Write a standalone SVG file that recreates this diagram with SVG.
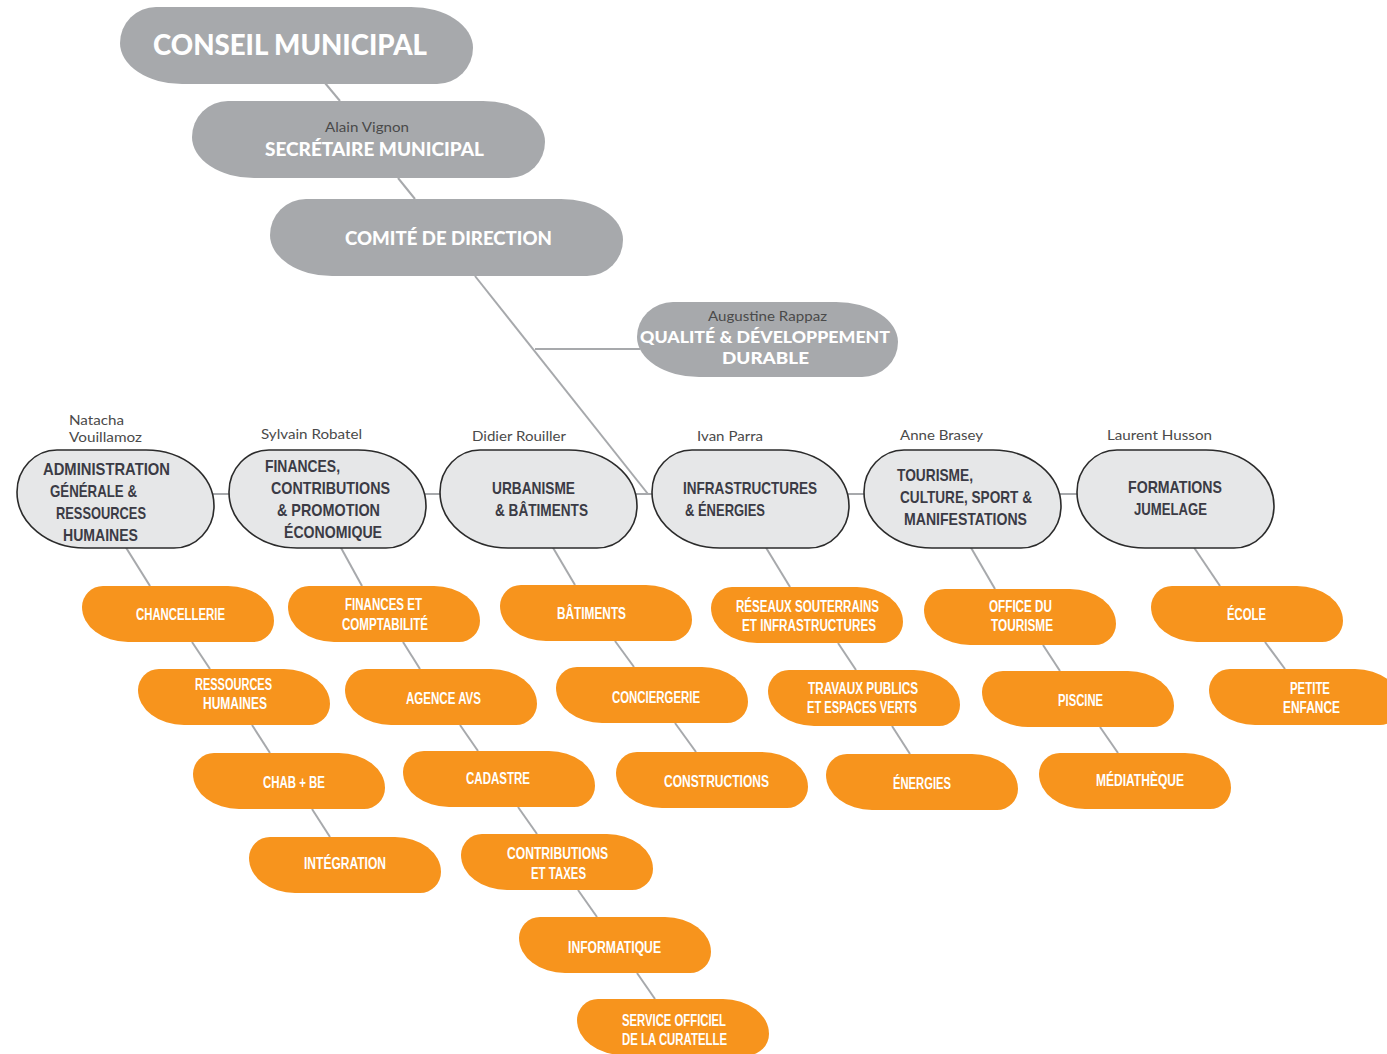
<svg xmlns="http://www.w3.org/2000/svg" xmlns:xlink="http://www.w3.org/1999/xlink" width="1387" height="1054" viewBox="0 0 1387 1054">
<style>
.c{stroke:#a7a9ac;stroke-width:2;fill:none}
.g{fill:#a7a9ac}
.o{fill:#f7941d}
.d{fill:#e6e7e8;stroke:#2b2b2b;stroke-width:1.6}
.tw{font-family:Lato,"Liberation Sans",sans-serif;font-weight:900;fill:#fff}
.nm{font-family:Lato,"Liberation Sans",sans-serif;font-size:14px;fill:#4a4a4a}
.dl{font-family:"Liberation Sans",Arial,sans-serif;font-weight:bold;font-size:17px;fill:#3b3b45}
.ol{font-family:"Liberation Sans",Arial,sans-serif;font-weight:bold;font-size:16px;fill:#fff}
</style>
<defs>
<path id="po" d="M21,0 H146 A46 35 0 0 1 192,35 A21 21 0 0 1 171,56 H46 A46 35 0 0 1 0,21 A21 21 0 0 1 21,0 Z"/>
<path id="pd" d="M40,0 H129 A68 56 0 0 1 197,56 A40 42 0 0 1 157,98 H68 A68 56 0 0 1 0,42 A40 42 0 0 1 40,0 Z"/>
<path id="pg" d="M36,0 H291 A62 41 0 0 1 353,41 A36 36 0 0 1 317,77 H62 A62 41 0 0 1 0,36 A36 36 0 0 1 36,0 Z"/>
<path id="pq" d="M36,0 H199 A62 40 0 0 1 261,40 A36 35 0 0 1 225,75 H62 A62 40 0 0 1 0,35 A36 35 0 0 1 36,0 Z"/>
</defs>
<g id="connectors">
<line class="c" x1="325" y1="83" x2="340" y2="101"/>
<line class="c" x1="398" y1="178" x2="415" y2="199"/>
<line class="c" x1="475" y1="276" x2="648" y2="494"/>
<line class="c" x1="535" y1="349" x2="640" y2="349"/>
<line class="c" x1="200" y1="494" x2="1090" y2="494"/>
<line class="c" x1="125" y1="546" x2="150" y2="586"/>
<line class="c" x1="340" y1="546" x2="362" y2="586"/>
<line class="c" x1="552" y1="546" x2="575" y2="585"/>
<line class="c" x1="765" y1="546" x2="790" y2="587"/>
<line class="c" x1="970" y1="546" x2="995" y2="589"/>
<line class="c" x1="1193" y1="546" x2="1220" y2="586"/>
<line class="c" x1="192" y1="642" x2="210" y2="669"/>
<line class="c" x1="252" y1="725" x2="270" y2="753"/>
<line class="c" x1="312" y1="809" x2="330" y2="837"/>
<line class="c" x1="403" y1="642" x2="420" y2="669"/>
<line class="c" x1="460" y1="725" x2="478" y2="751"/>
<line class="c" x1="518" y1="807" x2="537" y2="834"/>
<line class="c" x1="578" y1="890" x2="597" y2="917"/>
<line class="c" x1="637" y1="973" x2="655" y2="999"/>
<line class="c" x1="615" y1="641" x2="634" y2="667"/>
<line class="c" x1="675" y1="723" x2="696" y2="752"/>
<line class="c" x1="838" y1="643" x2="856" y2="670"/>
<line class="c" x1="892" y1="726" x2="910" y2="754"/>
<line class="c" x1="1043" y1="645" x2="1060" y2="671"/>
<line class="c" x1="1100" y1="727" x2="1118" y2="753"/>
<line class="c" x1="1265" y1="642" x2="1285" y2="669"/>
</g>
<g id="conseil"><use href="#pg" class="g" x="120" y="7"/><text class="tw" x="153" y="55" font-size="28" textLength="274" lengthAdjust="spacingAndGlyphs">CONSEIL MUNICIPAL</text></g>
<g id="secretaire"><use href="#pg" class="g" x="192" y="101"/><text class="nm" x="325" y="132" textLength="84" lengthAdjust="spacingAndGlyphs">Alain Vignon</text><text class="tw" x="265" y="156" font-size="19" textLength="219" lengthAdjust="spacingAndGlyphs">SECRÉTAIRE MUNICIPAL</text></g>
<g id="comite"><use href="#pg" class="g" x="270" y="199"/><text class="tw" x="345" y="245" font-size="19" textLength="207" lengthAdjust="spacingAndGlyphs">COMITÉ DE DIRECTION</text></g>
<g id="qualite"><use href="#pq" class="g" x="637" y="302"/><text class="nm" x="708" y="321" textLength="119" lengthAdjust="spacingAndGlyphs">Augustine Rappaz</text><text class="tw" x="640" y="343" font-size="17.5" textLength="250" lengthAdjust="spacingAndGlyphs">QUALITÉ &amp; DÉVELOPPEMENT</text><text class="tw" x="722" y="364" font-size="17.5" textLength="87" lengthAdjust="spacingAndGlyphs">DURABLE</text></g>

<g id="admin"><use href="#pd" class="d" x="17" y="450"/>
<text class="nm" x="69" y="425" textLength="55" lengthAdjust="spacingAndGlyphs">Natacha</text>
<text class="nm" x="69" y="442" textLength="73" lengthAdjust="spacingAndGlyphs">Vouillamoz</text>
<text class="dl" x="43" y="475" textLength="127" lengthAdjust="spacingAndGlyphs">ADMINISTRATION</text>
<text class="dl" x="50" y="497" textLength="87" lengthAdjust="spacingAndGlyphs">GÉNÉRALE &amp;</text>
<text class="dl" x="56" y="519" textLength="90" lengthAdjust="spacingAndGlyphs">RESSOURCES</text>
<text class="dl" x="63" y="541" textLength="75" lengthAdjust="spacingAndGlyphs">HUMAINES</text></g>
<g id="finances"><use href="#pd" class="d" x="229" y="450"/>
<text class="nm" x="261" y="439" textLength="101" lengthAdjust="spacingAndGlyphs">Sylvain Robatel</text>
<text class="dl" x="265" y="472" textLength="75" lengthAdjust="spacingAndGlyphs">FINANCES,</text>
<text class="dl" x="271" y="494" textLength="119" lengthAdjust="spacingAndGlyphs">CONTRIBUTIONS</text>
<text class="dl" x="277" y="516" textLength="103" lengthAdjust="spacingAndGlyphs">&amp; PROMOTION</text>
<text class="dl" x="284" y="538" textLength="98" lengthAdjust="spacingAndGlyphs">ÉCONOMIQUE</text></g>
<g id="urbanisme"><use href="#pd" class="d" x="440" y="450"/>
<text class="nm" x="472" y="441" textLength="94" lengthAdjust="spacingAndGlyphs">Didier Rouiller</text>
<text class="dl" x="492" y="494" textLength="83" lengthAdjust="spacingAndGlyphs">URBANISME</text>
<text class="dl" x="495" y="516" textLength="93" lengthAdjust="spacingAndGlyphs">&amp; BÂTIMENTS</text></g>
<g id="infrastructures"><use href="#pd" class="d" x="652" y="450"/>
<text class="nm" x="697" y="441" textLength="66" lengthAdjust="spacingAndGlyphs">Ivan Parra</text>
<text class="dl" x="683" y="494" textLength="134" lengthAdjust="spacingAndGlyphs">INFRASTRUCTURES</text>
<text class="dl" x="685" y="516" textLength="80" lengthAdjust="spacingAndGlyphs">&amp; ÉNERGIES</text></g>
<g id="tourisme"><use href="#pd" class="d" x="864" y="450"/>
<text class="nm" x="900" y="440" textLength="83" lengthAdjust="spacingAndGlyphs">Anne Brasey</text>
<text class="dl" x="897" y="481" textLength="76" lengthAdjust="spacingAndGlyphs">TOURISME,</text>
<text class="dl" x="900" y="503" textLength="132" lengthAdjust="spacingAndGlyphs">CULTURE, SPORT &amp;</text>
<text class="dl" x="904" y="525" textLength="123" lengthAdjust="spacingAndGlyphs">MANIFESTATIONS</text></g>
<g id="formations"><use href="#pd" class="d" x="1077" y="450"/>
<text class="nm" x="1107" y="440" textLength="105" lengthAdjust="spacingAndGlyphs">Laurent Husson</text>
<text class="dl" x="1128" y="493" textLength="94" lengthAdjust="spacingAndGlyphs">FORMATIONS</text>
<text class="dl" x="1134" y="515" textLength="73" lengthAdjust="spacingAndGlyphs">JUMELAGE</text></g>

<g id="chancellerie"><use href="#po" class="o" x="82" y="586"/><text class="ol" x="136" y="620" textLength="89" lengthAdjust="spacingAndGlyphs">CHANCELLERIE</text></g>
<g id="rh"><use href="#po" class="o" x="138" y="669"/><text class="ol" x="195" y="690" textLength="77" lengthAdjust="spacingAndGlyphs">RESSOURCES</text><text class="ol" x="203" y="709" textLength="64" lengthAdjust="spacingAndGlyphs">HUMAINES</text></g>
<g id="chab"><use href="#po" class="o" x="193" y="753"/><text class="ol" x="263" y="788" textLength="62" lengthAdjust="spacingAndGlyphs">CHAB + BE</text></g>
<g id="integration"><use href="#po" class="o" x="249" y="837"/><text class="ol" x="304" y="869" textLength="82" lengthAdjust="spacingAndGlyphs">INTÉGRATION</text></g>

<g id="fincompta"><use href="#po" class="o" x="288" y="586"/><text class="ol" x="345" y="610" textLength="77" lengthAdjust="spacingAndGlyphs">FINANCES ET</text><text class="ol" x="342" y="630" textLength="86" lengthAdjust="spacingAndGlyphs">COMPTABILITÉ</text></g>
<g id="avs"><use href="#po" class="o" x="345" y="669"/><text class="ol" x="406" y="704" textLength="75" lengthAdjust="spacingAndGlyphs">AGENCE AVS</text></g>
<g id="cadastre"><use href="#po" class="o" x="403" y="751"/><text class="ol" x="466" y="784" textLength="64" lengthAdjust="spacingAndGlyphs">CADASTRE</text></g>
<g id="contributions"><use href="#po" class="o" x="461" y="834"/><text class="ol" x="507" y="859" textLength="101" lengthAdjust="spacingAndGlyphs">CONTRIBUTIONS</text><text class="ol" x="531" y="879" textLength="55" lengthAdjust="spacingAndGlyphs">ET TAXES</text></g>
<g id="informatique"><use href="#po" class="o" x="519" y="917"/><text class="ol" x="568" y="953" textLength="93" lengthAdjust="spacingAndGlyphs">INFORMATIQUE</text></g>
<g id="curatelle"><use href="#po" class="o" x="577" y="999"/><text class="ol" x="622" y="1026" textLength="104" lengthAdjust="spacingAndGlyphs">SERVICE OFFICIEL</text><text class="ol" x="622" y="1045" textLength="105" lengthAdjust="spacingAndGlyphs">DE LA CURATELLE</text></g>

<g id="batiments"><use href="#po" class="o" x="500" y="585"/><text class="ol" x="557" y="619" textLength="69" lengthAdjust="spacingAndGlyphs">BÂTIMENTS</text></g>
<g id="conciergerie"><use href="#po" class="o" x="556" y="667"/><text class="ol" x="612" y="703" textLength="88" lengthAdjust="spacingAndGlyphs">CONCIERGERIE</text></g>
<g id="constructions"><use href="#po" class="o" x="616" y="752"/><text class="ol" x="664" y="787" textLength="105" lengthAdjust="spacingAndGlyphs">CONSTRUCTIONS</text></g>

<g id="reseaux"><use href="#po" class="o" x="711" y="587"/><text class="ol" x="736" y="612" textLength="143" lengthAdjust="spacingAndGlyphs">RÉSEAUX SOUTERRAINS</text><text class="ol" x="742" y="631" textLength="134" lengthAdjust="spacingAndGlyphs">ET INFRASTRUCTURES</text></g>
<g id="travaux"><use href="#po" class="o" x="768" y="670"/><text class="ol" x="808" y="694" textLength="110" lengthAdjust="spacingAndGlyphs">TRAVAUX PUBLICS</text><text class="ol" x="807" y="713" textLength="110" lengthAdjust="spacingAndGlyphs">ET ESPACES VERTS</text></g>
<g id="energies"><use href="#po" class="o" x="826" y="754"/><text class="ol" x="893" y="789" textLength="58" lengthAdjust="spacingAndGlyphs">ÉNERGIES</text></g>

<g id="office"><use href="#po" class="o" x="924" y="589"/><text class="ol" x="989" y="612" textLength="63" lengthAdjust="spacingAndGlyphs">OFFICE DU</text><text class="ol" x="991" y="631" textLength="62" lengthAdjust="spacingAndGlyphs">TOURISME</text></g>
<g id="piscine"><use href="#po" class="o" x="982" y="671"/><text class="ol" x="1058" y="706" textLength="45" lengthAdjust="spacingAndGlyphs">PISCINE</text></g>
<g id="mediatheque"><use href="#po" class="o" x="1039" y="753"/><text class="ol" x="1096" y="786" textLength="88" lengthAdjust="spacingAndGlyphs">MÉDIATHÈQUE</text></g>

<g id="ecole"><use href="#po" class="o" x="1151" y="586"/><text class="ol" x="1227" y="620" textLength="39" lengthAdjust="spacingAndGlyphs">ÉCOLE</text></g>
<g id="petiteenfance"><use href="#po" class="o" x="1209" y="669"/><text class="ol" x="1290" y="694" textLength="40" lengthAdjust="spacingAndGlyphs">PETITE</text><text class="ol" x="1283" y="713" textLength="57" lengthAdjust="spacingAndGlyphs">ENFANCE</text></g>
</svg>
